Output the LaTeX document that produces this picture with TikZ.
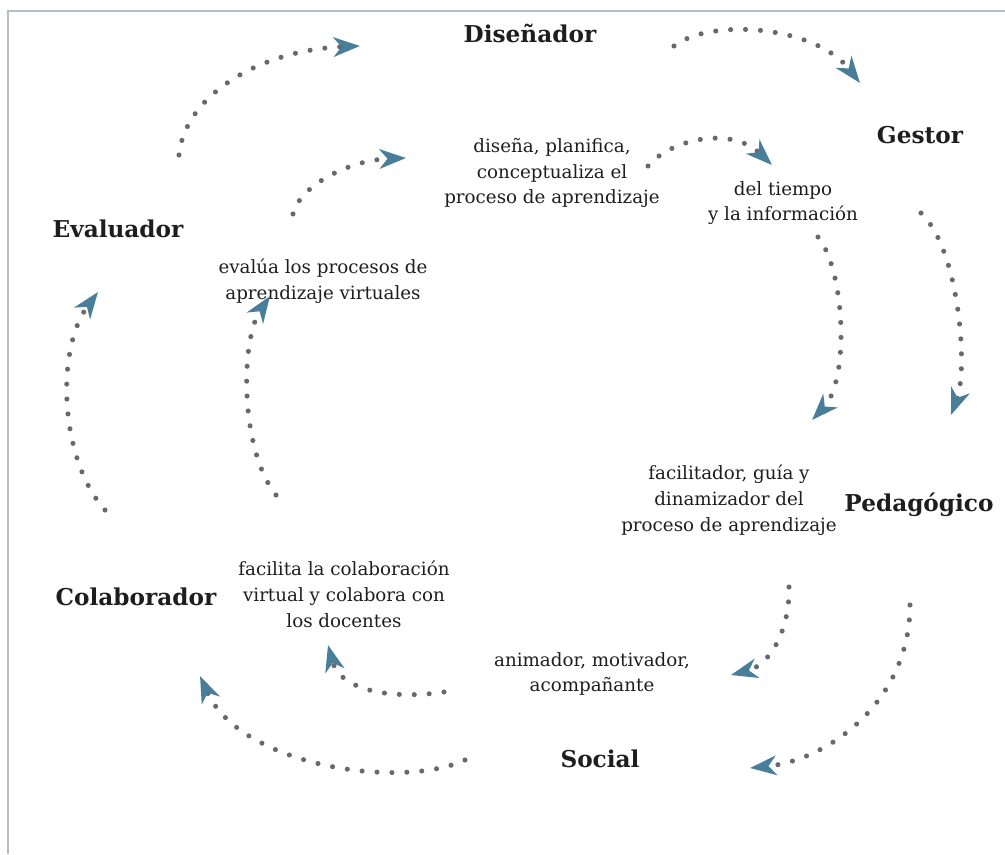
\documentclass[tikz,border=0pt]{standalone}
\usepackage{fontspec}
\setmainfont{DejaVu Serif}
\usetikzlibrary{arrows.meta}

\definecolor{dotgrey}{RGB}{105,105,108}
\definecolor{tipblue}{RGB}{72,126,153}
\definecolor{inkgrey}{RGB}{30,30,30}
\definecolor{framegrey}{RGB}{182,192,196}

\begin{document}
\begin{tikzpicture}[
      role/.style={font=\bfseries\fontsize{13.2}{15}\selectfont, text=inkgrey, inner sep=0pt},
      task/.style={font=\fontsize{10.4}{14.7}\selectfont, text=inkgrey, align=center, inner sep=0pt},
      loopline/.style={dotgrey, line width=2.9pt, line cap=round, dash pattern=on 0pt off 8.5pt,
        -{Stealth[tipblue, length=15pt, width=11pt, inset=4.5pt]}}]

      \useasboundingbox (0,0) rectangle (20.1,-17.08);
      \draw[framegrey, line width=0.9pt] (0.16,-17.08) -- (0.16,-0.22) -- (20.1,-0.22);

      % roles
      \node[role] (disenador) at (10.6,-0.66) {Diseñador};
      \node[role] (gestor) at (18.4,-2.7) {Gestor};
      \node[role] (pedagogico) at (18.38,-10.1) {Pedagógico};
      \node[role] (social) at (12.0,-15.18) {Social};
      \node[role] (colaborador) at (2.72,-11.94) {Colaborador};
      \node[role] (evaluador) at (2.36,-4.58) {Evaluador};

      % tasks
      \node[task] (disena) at (11.04,-3.46) {diseña, planifica,\\conceptualiza el\\proceso de aprendizaje};
      \node[task] (tiempo) at (15.66,-4.06) {del tiempo\\y la información};
      \node[task] (facilitador) at (14.58,-10.0) {facilitador, guía y\\dinamizador del\\proceso de aprendizaje};
      \node[task] (animador) at (11.84,-13.48) {animador, motivador,\\acompañante};
      \node[task] (facilita) at (6.88,-11.88) {facilita la colaboración\\virtual y colabora con\\los docentes};
      \node[task] (evalua) at (6.46,-5.62) {evalúa los procesos de\\aprendizaje virtuales};

      % ends of the arrows
      \coordinate (o1) at (3.58,-3.1);   \coordinate (o2) at (7.2,-0.92);
      \coordinate (o3) at (13.48,-0.92); \coordinate (o4) at (17.2,-1.66);
      \coordinate (o5) at (18.42,-4.26); \coordinate (o6) at (19.02,-8.3);
      \coordinate (o7) at (18.2,-12.1);  \coordinate (o8) at (15.0,-15.36);
      \coordinate (o9) at (9.3,-15.2);   \coordinate (o10) at (4.0,-13.52);
      \coordinate (o11) at (2.1,-10.2);  \coordinate (o12) at (1.96,-5.84);
      \coordinate (i1) at (5.86,-4.28);  \coordinate (i2) at (8.12,-3.16);
      \coordinate (i3) at (12.96,-3.32); \coordinate (i4) at (15.44,-3.3);
      \coordinate (i5) at (16.36,-4.74); \coordinate (i6) at (16.24,-8.4);
      \coordinate (i7) at (15.78,-11.74);\coordinate (i8) at (14.62,-13.5);
      \coordinate (i9) at (8.88,-13.84); \coordinate (i10) at (6.56,-12.9);
      \coordinate (i11) at (5.52,-9.9);  \coordinate (i12) at (5.4,-5.92);

      % outer cycle
      \draw[loopline] (o1) .. controls +(0.12,1.2) and +(-2.0,-0.08) .. (o2);
      \draw[loopline] (o3) .. controls +(0.72,0.56) and +(-0.9,1.16) .. (o4);
      \draw[loopline] (o5) .. controls +(0.78,-0.74) and +(0.34,0.9) .. (o6);
      \draw[loopline] (o7) .. controls +(0,-1.9) and +(1.6,0.16) .. (o8);
      \draw[loopline] (o9) .. controls +(-1.3,-0.6) and +(0.8,-1.8) .. (o10);
      \draw[loopline] (o11) .. controls +(-0.9,1.0) and +(-0.86,-1.16) .. (o12);

      % inner cycle
      \draw[loopline] (i1) .. controls +(0.14,0.58) and +(-1.12,-0.04) .. (i2);
      \draw[loopline] (i3) .. controls +(0.44,0.52) and +(-0.84,0.8) .. (i4);
      \draw[loopline] (i5) .. controls +(0.54,-0.66) and +(0.76,0.8) .. (i6);
      \draw[loopline] (i7) .. controls +(0.02,-0.86) and +(0.78,0.2) .. (i8);
      \draw[loopline] (i9) .. controls +(-1.08,-0.16) and +(0.24,-0.9) .. (i10);
      \draw[loopline] (i11) .. controls +(-0.72,0.9) and +(-0.6,-0.88) .. (i12);
\end{tikzpicture}
\end{document}
